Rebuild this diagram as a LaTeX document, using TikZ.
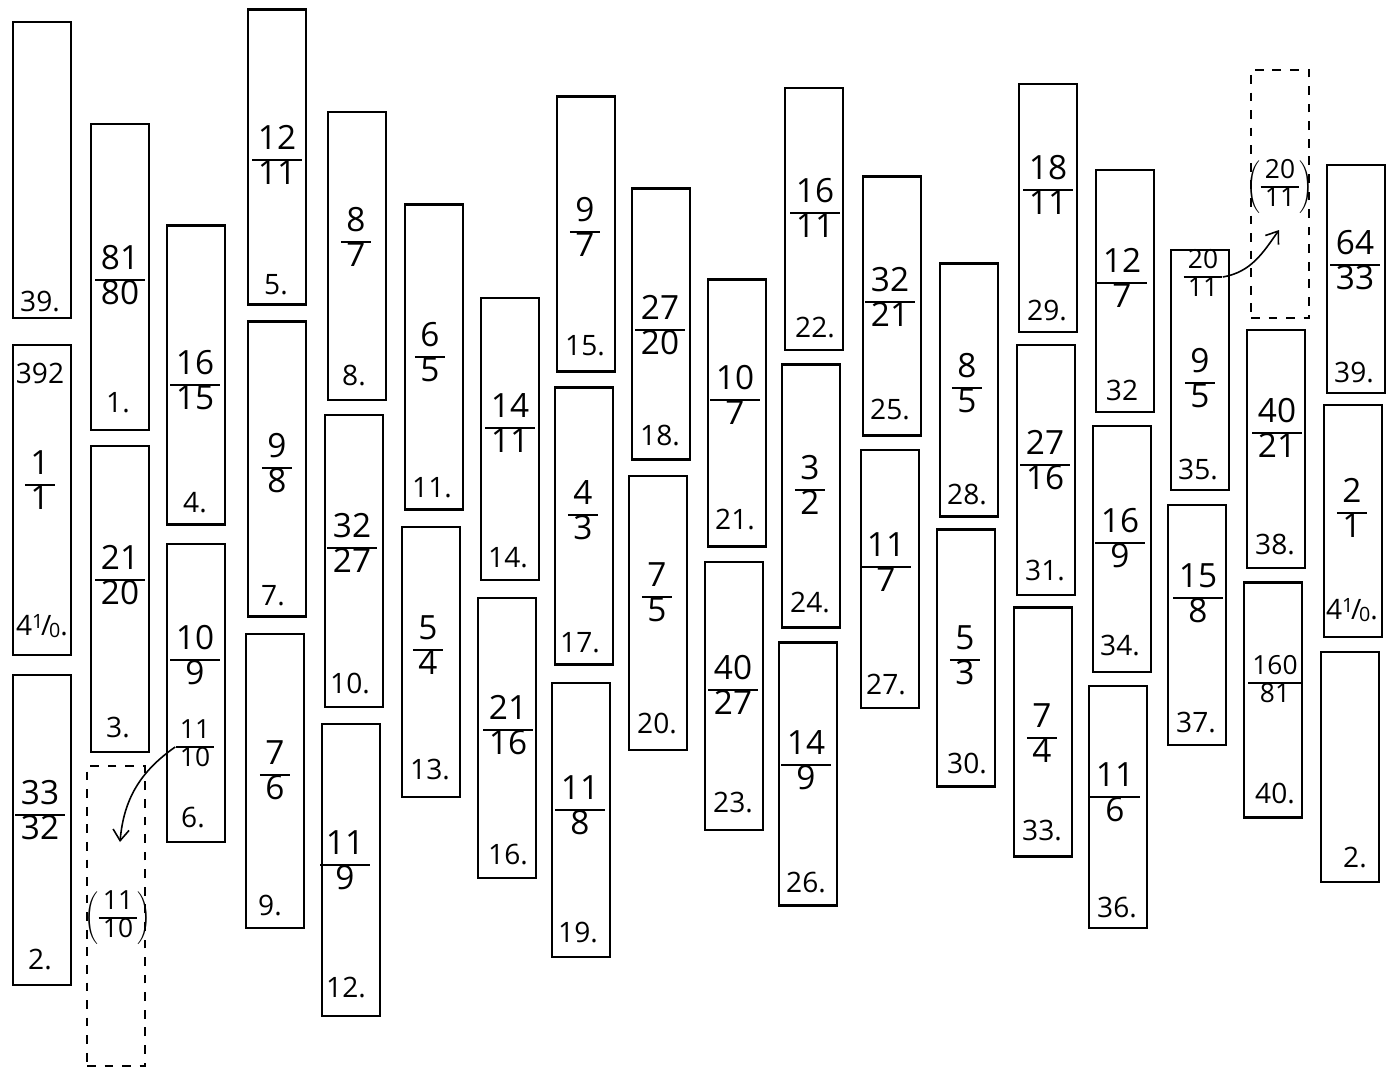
\documentclass[tikz,border=0pt]{standalone}
\usepackage{fontspec}
\setmainfont{Open Sans}
\usepackage{graphicx}
\usepackage{tikz}
\usetikzlibrary{arrows.meta}
\setlength{\arrayrulewidth}{0.9pt}
\newcommand{\frc}[2]{{\renewcommand{\arraystretch}{0.85}\begin{tabular}{@{\,}c@{\,}}#1\\\hline #2\end{tabular}}}
\newcommand{\pfrc}[2]{$\left(\mbox{\frc{#1}{#2}}\right)$}
\newcommand{\fourten}{4\raisebox{0.45ex}{\scalebox{0.7}{1}}\kern-0.08em/\kern-0.08em\raisebox{-0.1ex}{\scalebox{0.7}{0}}.}
\begin{document}
\begin{tikzpicture}[x=0.02cm, y=-0.02cm,
  bx/.style={draw, line width=1.25pt, minimum width=1.16cm, inner sep=0pt,
             minimum height={#1*0.02cm}},
  dbx/.style={draw, line width=0.8pt, dash pattern=on 5pt off 5pt,
              minimum width=1.16cm, inner sep=0pt, minimum height={#1*0.02cm}},
  frn/.style={inner sep=0pt, font=\fontsize{19}{21}\selectfont},
  sfrn/.style={inner sep=0pt, font=\fontsize{15}{17}\selectfont},
  nm/.style={inner sep=0pt, font=\fontsize{16}{18}\selectfont},
  >={Straight Barb[length=2.2mm, width=3.2mm]}]
\useasboundingbox (0,0) rectangle (1389,1072);
% column 1
\node[bx=296] (b39) at (42,170) {};
\node[bx=310] (b41) at (42,500) {};
\node[bx=310] (b2) at (42,830) {};
\node[nm] (n39) at (40,302) {39.};
\node[nm] (n392) at (40,373) {392};
\node[frn] (f41) at (40,485) {\frc{1}{1}};
\node[nm] (n41) at (42,626) {\fourten};
\node[frn] (f2) at (40,815) {\frc{33}{32}};
\node[nm] (n2) at (40,960) {2.};
% column 2
\node[bx=306] (b1) at (120,277) {};
\node[bx=306] (b3) at (120,599) {};
\node[dbx=300] (d6) at (116,916) {};
\node[frn] (f1) at (120,280) {\frc{81}{80}};
\node[nm] (n1) at (118,403) {1.};
\node[frn] (f3) at (120,580) {\frc{21}{20}};
\node[nm] (n3) at (118,728) {3.};
\node[sfrn] (p6) at (118,918) {\pfrc{11}{10}};
% column 3
\node[bx=299] (b4) at (196,375) {};
\node[bx=298] (b6) at (196,693) {};
\node[frn] (f4) at (195,385) {\frc{16}{15}};
\node[nm] (n4) at (195,503) {4.};
\node[frn] (f6a) at (195,660) {\frc{10}{9}};
\node[sfrn] (f6b) at (195,747) {\frc{11}{10}};
\node[nm] (n6) at (193,818) {6.};
% column 4
\node[bx=295] (b5) at (277,157) {};
\node[bx=295] (b7) at (277,469) {};
\node[bx=294] (b9) at (275,781) {};
\node[frn] (f5) at (277,160) {\frc{12}{11}};
\node[nm] (n5) at (276,285) {5.};
\node[frn] (f7) at (277,468) {\frc{9}{8}};
\node[nm] (n7) at (273,596) {7.};
\node[frn] (f9) at (275,775) {\frc{7}{6}};
\node[nm] (n9) at (270,906) {9.};
% column 5
\node[bx=288] (b8) at (357,256) {};
\node[bx=292] (b10) at (354,561) {};
\node[bx=292] (b12) at (351,870) {};
\node[frn] (f8) at (356,242) {\frc{8}{7}};
\node[nm] (n8) at (354,376) {8.};
\node[frn] (f10) at (352,548) {\frc{32}{27}};
\node[nm] (n10) at (350,683) {10.};
\node[frn] (f12) at (345,865) {\frc{11}{9}};
\node[nm] (n12) at (346,988) {12.};
% column 6
\node[bx=305] (b11) at (434,357) {};
\node[bx=270] (b13) at (431,662) {};
\node[frn] (f11) at (430,357) {\frc{6}{5}};
\node[nm] (n11) at (432,488) {11.};
\node[frn] (f13) at (428,650) {\frc{5}{4}};
\node[nm] (n13) at (430,770) {13.};
% column 7
\node[bx=282] (b14) at (510,439) {};
\node[bx=280] (b16) at (507,738) {};
\node[frn] (f14) at (510,428) {\frc{14}{11}};
\node[nm] (n14) at (508,558) {14.};
\node[frn] (f16) at (508,730) {\frc{21}{16}};
\node[nm] (n16) at (508,855) {16.};
% column 8
\node[bx=275] (b15) at (586,234) {};
\node[bx=277] (b17) at (584,526) {};
\node[bx=274] (b19) at (581,820) {};
\node[frn] (f15) at (585,232) {\frc{9}{7}};
\node[nm] (n15) at (585,346) {15.};
\node[frn] (f17) at (583,515) {\frc{4}{3}};
\node[nm] (n17) at (580,643) {17.};
\node[frn] (f19) at (580,810) {\frc{11}{8}};
\node[nm] (n19) at (578,933) {19.};
% column 9
\node[bx=271] (b18) at (661,324) {};
\node[bx=274] (b20) at (658,613) {};
\node[frn] (f18) at (660,330) {\frc{27}{20}};
\node[nm] (n18) at (660,436) {18.};
\node[frn] (f20) at (657,597) {\frc{7}{5}};
\node[nm] (n20) at (657,723) {20.};
% column 10
\node[bx=267] (b21) at (737,413) {};
\node[bx=268] (b23) at (734,696) {};
\node[frn] (f21) at (735,400) {\frc{10}{7}};
\node[nm] (n21) at (735,520) {21.};
\node[frn] (f23) at (733,690) {\frc{40}{27}};
\node[nm] (n23) at (733,803) {23.};
% column 11
\node[bx=262] (b22) at (814,219) {};
\node[bx=263] (b24) at (811,496) {};
\node[bx=263] (b26) at (808,774) {};
\node[frn] (f22) at (815,213) {\frc{16}{11}};
\node[nm] (n22) at (815,328) {22.};
\node[frn] (f24) at (810,490) {\frc{3}{2}};
\node[nm] (n24) at (810,603) {24.};
\node[frn] (f26) at (806,765) {\frc{14}{9}};
\node[nm] (n26) at (806,883) {26.};
% column 12
\node[bx=259] (b25) at (892,306) {};
\node[bx=258] (b27) at (890,579) {};
\node[frn] (f25) at (890,302) {\frc{32}{21}};
\node[nm] (n25) at (890,410) {25.};
\node[frn] (f27) at (886,567) {\frc{11}{7}};
\node[nm] (n27) at (886,685) {27.};
% column 13
\node[bx=253] (b28) at (969,390) {};
\node[bx=257] (b30) at (966,658) {};
\node[frn] (f28) at (967,388) {\frc{8}{5}};
\node[nm] (n28) at (967,495) {28.};
\node[frn] (f30) at (965,660) {\frc{5}{3}};
\node[nm] (n30) at (967,763) {30.};
% column 14
\node[bx=248] (b29) at (1048,208) {};
\node[bx=250] (b31) at (1046,470) {};
\node[bx=249] (b33) at (1043,732) {};
\node[frn] (f29) at (1048,190) {\frc{18}{11}};
\node[nm] (n29) at (1047,311) {29.};
\node[frn] (f31) at (1045,465) {\frc{27}{16}};
\node[nm] (n31) at (1045,571) {31.};
\node[frn] (f33) at (1042,738) {\frc{7}{4}};
\node[nm] (n33) at (1042,831) {33.};
% column 15
\node[bx=242] (b32) at (1125,291) {};
\node[bx=246] (b34) at (1122,549) {};
\node[bx=242] (b36) at (1118,807) {};
\node[frn] (f32) at (1122,283) {\frc{12}{7}};
\node[nm] (n32) at (1122,390) {32};
\node[frn] (f34) at (1120,543) {\frc{16}{9}};
\node[nm] (n34) at (1120,646) {34.};
\node[frn] (f36) at (1115,797) {\frc{11}{6}};
\node[nm] (n36) at (1117,908) {36.};
% column 16
\node[bx=240] (b35) at (1200,370) {};
\node[bx=240] (b37) at (1197,625) {};
\node[sfrn] (f35a) at (1203,277) {\frc{20}{11}};
\node[frn] (f35b) at (1200,383) {\frc{9}{5}};
\node[nm] (n35) at (1198,470) {35.};
\node[frn] (f37) at (1198,598) {\frc{15}{8}};
\node[nm] (n37) at (1196,723) {37.};
% column 17
\node[dbx=248] (d35) at (1280,194) {};
\node[bx=238] (b38) at (1276,449) {};
\node[bx=235] (b40) at (1273,700) {};
\node[sfrn] (p35) at (1280,187) {\pfrc{20}{11}};
\node[frn] (f38) at (1277,433) {\frc{40}{21}};
\node[nm] (n38) at (1275,545) {38.};
\node[sfrn] (f40) at (1275,683) {\frc{160}{81}};
\node[nm] (n40) at (1275,793) {40.};
% column 18
\node[bx=228] (b39x) at (1356,279) {};
\node[bx=232] (b41x) at (1353,521) {};
\node[bx=230] (b2x) at (1350,767) {};
\node[frn] (f39x) at (1355,265) {\frc{64}{33}};
\node[nm] (n39x) at (1354,373) {39.};
\node[frn] (f41x) at (1352,513) {\frc{2}{1}};
\node[nm] (n41x) at (1352,610) {\fourten};
\node[nm] (n2x) at (1355,858) {2.};
% moved ratios
\coordinate (t6) at (120,842);
\coordinate (t35) at (1279,230);
\draw[->, line width=0.9pt] (f6b.west) to[out=215, in=85] (t6);
\draw[->, line width=0.9pt] (f35a.east) to[out=10, in=235] (t35);
\end{tikzpicture}
\end{document}
